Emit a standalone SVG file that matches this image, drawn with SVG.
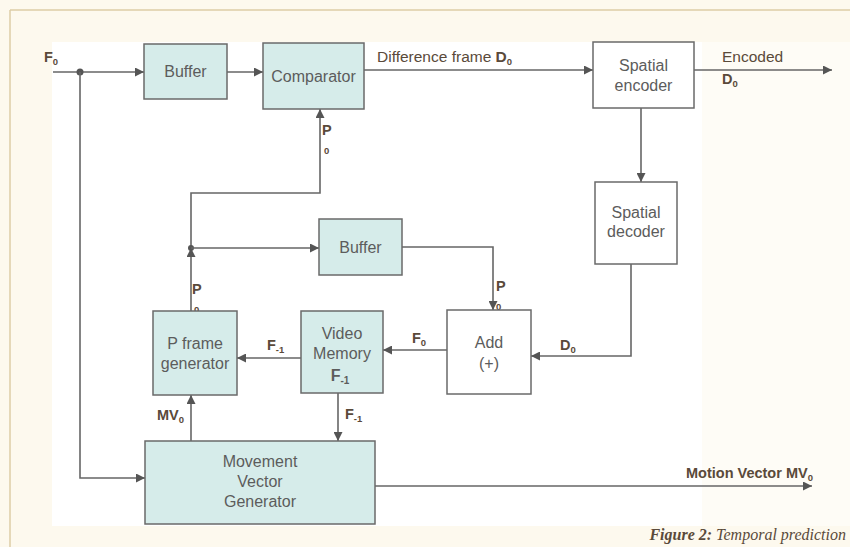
<svg xmlns="http://www.w3.org/2000/svg" width="850" height="547" viewBox="0 0 850 547">
<defs>
<marker id="ah" viewBox="0 0 10 10" refX="10" refY="5" markerWidth="9" markerHeight="9" markerUnits="userSpaceOnUse" orient="auto"><path d="M0,0 L10,5 L0,10 z" fill="#555"/></marker>
<style>
.bx{stroke:#6a6a6a;stroke-width:1.5}
.cy{fill:#d6ecea}
.wh{fill:#ffffff}
.t{font-family:"Liberation Sans",Arial,sans-serif;font-size:16px;fill:#5c5c5c;text-anchor:middle}
.l{font-family:"Liberation Sans",Arial,sans-serif;font-size:14.5px;font-weight:bold;fill:#5a4a3a}
.n{font-family:"Liberation Sans",Arial,sans-serif;font-size:15.5px;fill:#5a4a3a}
.s{font-size:9.5px}
.ln{fill:none;stroke:#666;stroke-width:1.6}
.ar{marker-end:url(#ah)}
</style>
</defs>
<rect width="850" height="547" fill="#fdf9ee"/>
<rect x="52" y="42" width="650" height="484" fill="#ffffff"/>
<rect x="702" y="42" width="148" height="484" fill="#fefcf6"/>
<line x1="10" y1="10" x2="850" y2="10" stroke="#dccca6" stroke-width="1.5"/>
<line x1="10" y1="10" x2="10" y2="547" stroke="#dccca6" stroke-width="1.5"/>

<g id="connectors">
<path class="ln ar" d="M53,72 H144"/>
<circle cx="80" cy="72" r="3.5" fill="#555"/>
<path class="ln ar" d="M227,72 H263"/>
<path class="ln ar" d="M364,70 H593"/>
<path class="ln ar" d="M694,70 H832"/>
<path class="ln ar" d="M641,108 V182"/>
<path class="ln ar" d="M631,264 V356 H531"/>
<path class="ln ar" d="M447,350 H383"/>
<path class="ln ar" d="M301,358 H237"/>
<path class="ln ar" d="M338,393 V441"/>
<path class="ln ar" d="M191,441 V395"/>
<path class="ln ar" d="M191,311 V248"/>
<path class="ln ar" d="M191,248 V193 H320 V109"/>
<circle cx="191" cy="248" r="3" fill="#555"/>
<path class="ln ar" d="M191,248 H319"/>
<path class="ln ar" d="M402,247 H493 V310"/>
<path class="ln ar" d="M80,72 V478 H145"/>
<path class="ln ar" d="M375,486 H812"/>
</g>

<g id="labels">
<text class="l" x="44" y="62">F<tspan class="s" dy="3">0</tspan></text>
<text class="n" x="377" y="62">Difference frame <tspan font-weight="bold">D</tspan><tspan font-weight="bold" font-size="9.5" dy="3">0</tspan></text>
<text class="n" x="722" y="62">Encoded</text>
<text class="l" x="722" y="84">D<tspan class="s" dy="3">0</tspan></text>
<text class="l" x="322" y="135">P</text>
<text class="l s" x="324" y="154">0</text>
<text class="l" x="192" y="294">P</text>
<text class="l s" x="194" y="313">0</text>
<text class="l" x="496" y="291">P</text>
<text class="l s" x="496" y="310">0</text>
<text class="l" x="560" y="350">D<tspan class="s" dy="3">0</tspan></text>
<text class="l" x="412" y="343">F<tspan class="s" dy="3">0</tspan></text>
<text class="l" x="267" y="350">F<tspan class="s" dy="3">-1</tspan></text>
<text class="l" x="345" y="419">F<tspan class="s" dy="3">-1</tspan></text>
<text class="l" x="157" y="420">MV<tspan class="s" dy="3">0</tspan></text>
<text class="l" x="686" y="478" font-size="13">Motion Vector MV<tspan class="s" dy="3">0</tspan></text>
<text x="846" y="540" text-anchor="end" style="font-family:'Liberation Serif','Times New Roman',serif;font-size:16px;font-style:italic;fill:#5a4a3a"><tspan font-weight="bold">Figure 2:</tspan> Temporal prediction</text>
</g>

<g id="buffer1"><rect class="bx cy" x="144" y="44" width="83" height="55"/><text class="t" x="185.5" y="77">Buffer</text></g>
<g id="comparator"><rect class="bx cy" x="263" y="43" width="101" height="66"/><text class="t" x="313.5" y="82">Comparator</text></g>
<g id="spatial-encoder"><rect class="bx wh" x="593" y="42" width="101" height="66"/><text class="t" x="643.5" y="71">Spatial</text><text class="t" x="643.5" y="91">encoder</text></g>
<g id="spatial-decoder"><rect class="bx wh" x="595" y="182" width="82" height="82"/><text class="t" x="636" y="218">Spatial</text><text class="t" x="636" y="237">decoder</text></g>
<g id="buffer2"><rect class="bx cy" x="319" y="219" width="83" height="56"/><text class="t" x="360.5" y="253">Buffer</text></g>
<g id="add"><rect class="bx wh" x="447" y="310" width="84" height="84"/><text class="t" x="489" y="348">Add</text><text class="t" x="489" y="369">(+)</text></g>
<g id="video-memory"><rect class="bx cy" x="301" y="311" width="82" height="82"/><text class="t" x="342" y="339">Video</text><text class="t" x="342" y="359">Memory</text><text class="t" x="340" y="381" font-weight="bold">F<tspan font-size="10" dy="3">-1</tspan></text></g>
<g id="p-frame-generator"><rect class="bx cy" x="153" y="311" width="84" height="84"/><text class="t" x="195" y="349">P frame</text><text class="t" x="195" y="369">generator</text></g>
<g id="movement-vector-generator"><rect class="bx cy" x="145" y="441" width="230" height="83"/><text class="t" x="260" y="467">Movement</text><text class="t" x="260" y="487">Vector</text><text class="t" x="260" y="507">Generator</text></g>
</svg>
